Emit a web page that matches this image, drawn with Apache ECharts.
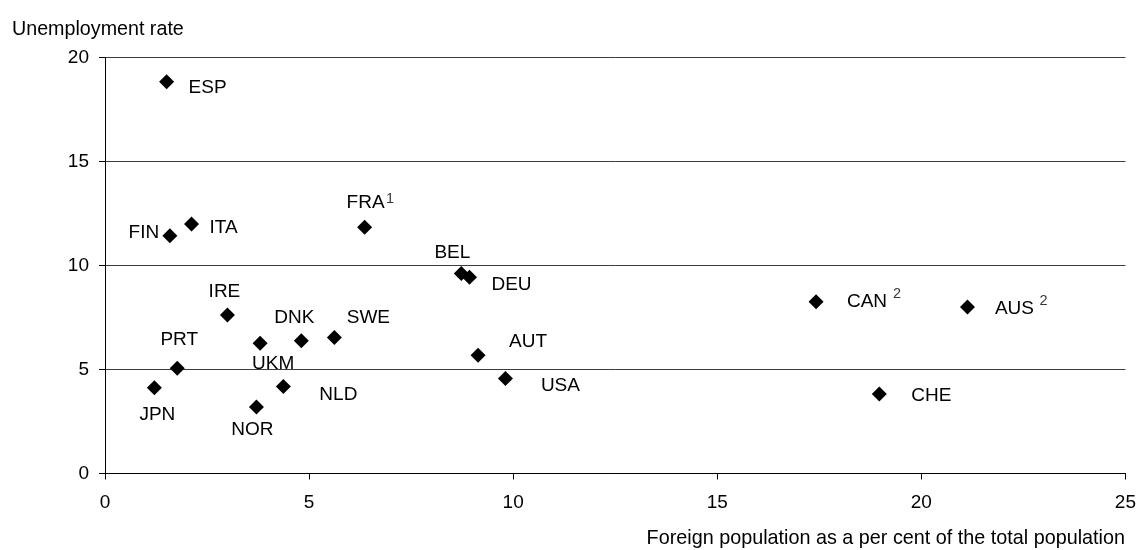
<!DOCTYPE html>
<html>
<head>
<meta charset="utf-8">
<script src="https://cdn.jsdelivr.net/npm/echarts@6/dist/echarts.min.js"></script>
<style>
html,body{margin:0;padding:0;background:#fff;}
#chart{width:1139px;height:550px;}
</style>
</head>
<body>
<div id="chart"></div>
<script>
// ---- data ----
const countries   = ['ESP','FIN','ITA','FRA','BEL','DEU','CAN','AUS','CHE','IRE','UKM','DNK','SWE','PRT','JPN','NOR','NLD','AUT','USA'];
const foreignPct  = [1.51, 1.59, 2.12, 6.36, 8.73, 8.93, 17.42, 21.13, 18.97, 3.00, 3.80, 4.81, 5.62, 1.77, 1.21, 3.71, 4.37, 9.14, 9.81];
const unemployment= [18.84, 11.43, 12.0, 11.84, 9.62, 9.43, 8.26, 8.01, 3.82, 7.62, 6.26, 6.38, 6.54, 5.06, 4.12, 3.2, 4.18, 5.68, 4.57];
const noteCountries = ['FRA', 'CAN', 'AUS'];
const noteMarks     = ['1', '2', '2'];
const xTicks = [0, 5, 10, 15, 20, 25];
const yTicks = [0, 5, 10, 15, 20];

// ---- label placement (style only) ----
const labelOffset = {
  ESP:[41,6], FIN:[-26,-3], ITA:[32,4], FRA:[1,-24], BEL:[-9,-21], DEU:[42,7],
  CAN:[51,0], AUS:[47,2], CHE:[52,2], IRE:[-3,-23], UKM:[13,20], DNK:[-7,-23],
  SWE:[34,-20], PRT:[2,-28], JPN:[3,27], NOR:[-4,23], NLD:[55,8], AUT:[50,-14], USA:[55,7]
};
const noteOffset = { FRA:[25.5,-28.5], CAN:[81,-7.5], AUS:[76,-6] };

const FONT = '"Liberation Sans", Arial, sans-serif';
const chart = echarts.init(document.getElementById('chart'), null, {renderer:'canvas'});

const points = countries.map((c, i) => ({
  name: c,
  value: [foreignPct[i], unemployment[i]],
  label: { offset: labelOffset[c] }
}));

const notePoints = noteCountries.map((c, k) => {
  const i = countries.indexOf(c);
  return {
    name: noteMarks[k],
    value: [foreignPct[i], unemployment[i]],
    label: { offset: noteOffset[c] }
  };
});

chart.setOption({
  animation: false,
  backgroundColor: '#ffffff',
  title: [
    { text: 'Unemployment rate', left: 7, top: 15,
      textStyle: { fontFamily: FONT, fontSize: 19.7, fontWeight: 'normal', color: '#000' } },
    { text: 'Foreign population as a per cent of the total population', right: 9, top: 524,
      textStyle: { fontFamily: FONT, fontSize: 19.8, fontWeight: 'normal', color: '#000' } }
  ],
  grid: { left: 105, right: 13, top: 57.5, bottom: 76.5, containLabel: false },
  xAxis: {
    type: 'value', min: xTicks[0], max: xTicks[xTicks.length - 1], interval: 5,
    axisLine: { show: true, lineStyle: { color: '#000', width: 1 } },
    axisTick: { show: true, length: 6, lineStyle: { color: '#000' } },
    axisLabel: { margin: 20, fontFamily: FONT, fontSize: 19, color: '#000' },
    splitLine: { show: false }
  },
  yAxis: {
    type: 'value', min: yTicks[0], max: yTicks[yTicks.length - 1], interval: 5,
    axisLine: { show: true, lineStyle: { color: '#000', width: 1 } },
    axisTick: { show: true, length: 6, lineStyle: { color: '#000' } },
    axisLabel: { margin: 16, fontFamily: FONT, fontSize: 19, color: '#000' },
    splitLine: { show: true, lineStyle: { color: '#3c3c3c', width: 1 } }
  },
  series: [{
    type: 'scatter',
    symbol: 'diamond',
    symbolSize: [15, 15],
    itemStyle: { color: '#000', opacity: 1 },
    label: {
      show: true,
      position: 'inside',
      formatter: '{b}',
      fontFamily: FONT, fontSize: 19, color: '#000'
    },
    emphasis: { disabled: true },
    data: points
  }, {
    type: 'scatter',
    symbol: 'circle',
    symbolSize: 1,
    silent: true,
    itemStyle: { color: 'rgba(0,0,0,0)' },
    label: {
      show: true,
      position: 'inside',
      formatter: '{b}',
      fontFamily: FONT, fontSize: 14.5, color: '#000'
    },
    emphasis: { disabled: true },
    data: notePoints
  }]
});
</script>
</body>
</html>
